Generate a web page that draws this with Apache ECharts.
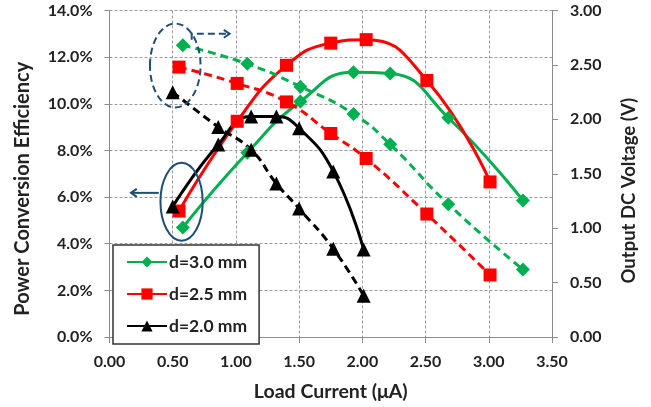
<!DOCTYPE html>
<html>
<head>
<meta charset="utf-8">
<script src="https://cdn.jsdelivr.net/npm/echarts@6/dist/echarts.min.js"></script>
<style>
    html, body { margin: 0; padding: 0; background: #fff; }
    #chart { width: 651px; height: 407px; }
</style>
</head>
<body>
<div id="chart"></div>
<script>
// series names
var names = ['d=3.0 mm', 'd=2.5 mm', 'd=2.0 mm'];

// load current (uA) for each gap
var current30 = [0.58, 1.09, 1.51, 1.93, 2.22, 2.68, 3.27];
var current25 = [0.55, 1.01, 1.40, 1.75, 2.03, 2.51, 3.01];
var current20 = [0.50, 0.86, 1.12, 1.32, 1.50, 1.77, 2.01];

// power conversion efficiency (%)
var eff30 = [4.7, 7.9, 10.1, 11.35, 11.3, 9.4, 5.85];
var eff25 = [5.4, 9.25, 11.65, 12.6, 12.75, 11.0, 6.65];
var eff20 = [5.6, 8.25, 9.45, 9.45, 8.95, 7.1, 3.75];

// output DC voltage (V)
var volt30 = [2.68, 2.51, 2.30, 2.05, 1.77, 1.22, 0.62];
var volt25 = [2.48, 2.33, 2.16, 1.87, 1.64, 1.13, 0.57];
var volt20 = [2.25, 1.93, 1.72, 1.41, 1.18, 0.81, 0.38];

var colors = ['#00B050', '#FF0000', '#000000'];
var symbols = ['diamond', 'rect', 'triangle'];
var symbolSizes = [14, 13, 14];
var FONT = 'Lato, "Open Sans", sans-serif';
var annotationColor = '#1F4E79';

function pairs(xs, ys) {
    return xs.map(function (x, i) { return [x, ys[i]]; });
}

var currents = [current30, current25, current20];
var effs = [eff30, eff25, eff20];
var volts = [volt30, volt25, volt20];

var series = [];
// solid efficiency lines first so the legend takes their look
for (var i = 0; i < 3; i++) {
    series.push({
        name: names[i],
        type: 'line',
        yAxisIndex: 0,
        smooth: 0.5,
        symbol: symbols[i],
        symbolSize: symbolSizes[i],
        itemStyle: { color: colors[i] },
        lineStyle: { color: colors[i], width: 3 },
        data: pairs(currents[i], effs[i])
    });
}
for (var j = 0; j < 3; j++) {
    series.push({
        name: names[j],
        type: 'line',
        yAxisIndex: 1,
        smooth: 0.5,
        symbol: symbols[j],
        symbolSize: symbolSizes[j],
        itemStyle: { color: colors[j] },
        lineStyle: { color: colors[j], width: 3, type: [8, 5] },
        data: pairs(currents[j], volts[j])
    });
}

var gridLine = { show: true, lineStyle: { color: '#9a9a9a', width: 1, type: [3, 2] } };
var axisLine = { show: true, lineStyle: { color: '#8c8c8c', width: 1 } };
var labelFont = { fontFamily: FONT, fontWeight: 'bold', fontSize: 16, color: '#222' };

var chart = echarts.init(document.getElementById('chart'));

var option = {
    backgroundColor: '#fff',
    animation: false,
    grid: { left: 109.5, right: 99, top: 10.5, bottom: 70, containLabel: false },
    legend: {
        data: names,
        orient: 'vertical',
        left: 113,
        top: 245,
        padding: [8, 12, 9, 13],
        itemGap: 14,
        itemWidth: 40,
        itemHeight: 14,
        backgroundColor: '#fff',
        borderColor: '#333',
        borderWidth: 1.5,
        textStyle: { fontFamily: FONT, fontWeight: 'bold', fontSize: 17.5, color: '#222', padding: [0, 0, 0, -3] }
    },
    xAxis: {
        type: 'value',
        min: 0,
        max: 3.5,
        interval: 0.5,
        name: 'Load Current (\u03bcA)',
        nameLocation: 'middle',
        nameGap: 45,
        nameTextStyle: { fontFamily: FONT, fontWeight: 'bold', fontSize: 19.5, color: '#222' },
        axisLine: axisLine,
        axisTick: { show: true, length: 6, lineStyle: { color: '#8c8c8c' } },
        axisLabel: Object.assign({ margin: 17, formatter: function (v) { return v.toFixed(2); } }, labelFont),
        splitLine: gridLine
    },
    yAxis: [{
        type: 'value',
        min: 0,
        max: 14,
        interval: 2,
        axisLine: axisLine,
        axisTick: { show: true, length: 5, lineStyle: { color: '#8c8c8c' } },
        axisLabel: Object.assign({ margin: 17, formatter: function (v) { return v.toFixed(1) + '%'; } }, labelFont),
        splitLine: gridLine
    }, {
        type: 'value',
        position: 'right',
        min: 0,
        max: 3,
        interval: 0.5,
        axisLine: axisLine,
        axisTick: { show: true, length: 6, lineStyle: { color: '#8c8c8c' } },
        axisLabel: Object.assign({ margin: 18, formatter: function (v) { return v.toFixed(2); } }, labelFont),
        splitLine: { show: false }
    }],
    series: series
};

chart.setOption(option);

function toPx(p) {
    return chart.convertToPixel({ xAxisIndex: 0, yAxisIndex: 0 }, p);
}

// the vertical axis titles sit a little below the middle of the plot, so place them by hand
var yTitles = [
    { text: 'Power Conversion Efficiency', at: [0, 7], dx: -86.5, dy: 15, size: 20 },
    { text: 'Output DC Voltage (V)', at: [3.5, 7], dx: 77, dy: 17, size: 18.5 }
];

// blue call-outs: ellipses around the start points with arrows to the axis they use
// given in data units of the bottom axis and the left axis
var callouts = [
    { center: [0.52, 11.64], radius: [0.2, 1.8], dashed: true,
      arrow: [[0.65, 12.75], [0.65, 13.0], [0.95, 13.0]] },
    { center: [0.57, 5.8], radius: [0.167, 1.67], dashed: false,
      arrow: [[0.39, 6.18], [0.17, 6.18]] }
];

var graphics = [];
yTitles.forEach(function (t) {
    var p = toPx(t.at);
    graphics.push({
        type: 'text',
        x: p[0] + t.dx,
        y: p[1] + t.dy,
        rotation: Math.PI / 2,
        style: {
            text: t.text,
            fill: '#222',
            font: 'bold ' + t.size + 'px ' + FONT,
            align: 'center',
            verticalAlign: 'middle'
        }
    });
});
callouts.forEach(function (c) {
    var ctr = toPx(c.center);
    var edge = toPx([c.center[0] + c.radius[0], c.center[1] + c.radius[1]]);
    var dash = c.dashed ? [7, 4] : null;
    graphics.push({
        type: 'ellipse',
        shape: { cx: ctr[0], cy: ctr[1], rx: Math.abs(edge[0] - ctr[0]), ry: Math.abs(edge[1] - ctr[1]) },
        style: { fill: null, stroke: annotationColor, lineWidth: 2, lineDash: dash },
        z: 100
    });
    var pts = c.arrow.map(toPx);
    graphics.push({
        type: 'polyline',
        shape: { points: pts },
        style: { fill: null, stroke: annotationColor, lineWidth: 2, lineDash: dash },
        z: 100
    });
    // open arrow head at the last point
    var a = pts[pts.length - 2], b = pts[pts.length - 1];
    var ang = Math.atan2(b[1] - a[1], b[0] - a[0]);
    var len = 7, spread = 0.6;
    graphics.push({
        type: 'polyline',
        shape: { points: [
            [b[0] - len * Math.cos(ang - spread), b[1] - len * Math.sin(ang - spread)],
            b,
            [b[0] - len * Math.cos(ang + spread), b[1] - len * Math.sin(ang + spread)]
        ] },
        style: { fill: null, stroke: annotationColor, lineWidth: 2 },
        z: 100
    });
});

chart.setOption({ graphic: graphics });
</script>
</body>
</html>
